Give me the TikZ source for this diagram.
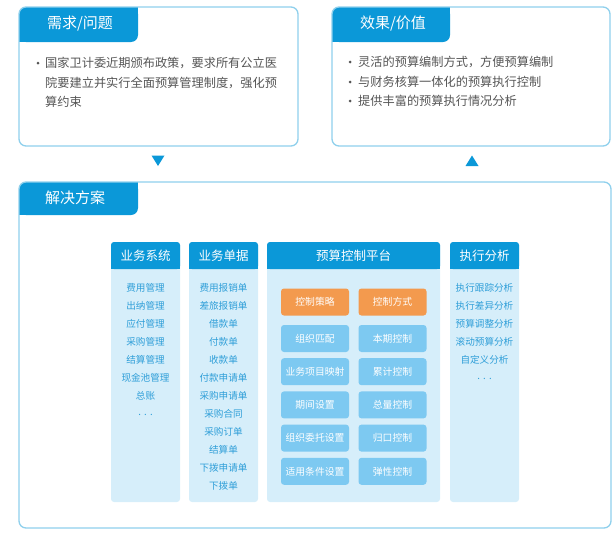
\documentclass[tikz,border=0pt]{standalone}
\usepackage{fontspec}
\setmainfont{Noto Sans CJK SC}
\definecolor{hdr}{HTML}{0B98D8}
\definecolor{framec}{HTML}{8FD0EC}
\definecolor{colbg}{HTML}{D6EEFA}
\definecolor{btn}{HTML}{7DC9F1}
\definecolor{org}{HTML}{F39A4E}
\definecolor{itm}{HTML}{2E9ED8}
\definecolor{txt}{HTML}{555555}
\tikzset{
  hdrtext/.style={text=white,font=\fontsize{15}{18}\selectfont,inner sep=0pt},
  coltitle/.style={text=white,font=\fontsize{12.5}{15}\selectfont,inner sep=0pt},
  colitem/.style={text=itm,font=\fontsize{9.6}{11}\selectfont,inner sep=0pt},
  bultext/.style={text=txt,font=\fontsize{12.2}{14}\selectfont,inner sep=0pt,anchor=base west},
  bul/.style={circle,fill=txt,minimum size=3pt,inner sep=0pt},
  btnbox/.style={fill=btn,rounded corners=3pt,minimum width=68pt,minimum height=27pt,inner sep=0pt,text=white,font=\fontsize{9.8}{11}\selectfont},
  orgbox/.style={btnbox,fill=org},
  frameline/.style={draw=framec,line width=1.3pt,rounded corners=7pt},
}
\begin{document}
\begin{tikzpicture}[x=1pt,y=-1pt]
\useasboundingbox (0,0) rectangle (616,533);
% ---------- top-left box ----------
\fill[hdr,rounded corners=7pt] (19,7) rectangle (138,42);
\fill[hdr] (126,7) rectangle (138,20);
\fill[hdr] (19,30) rectangle (31,42);
\draw[frameline] (19,7) rectangle (298,146);
\node[hdrtext] (h1) at (80,24) {需求/问题};
\node[bul] (b1) at (38,63) {};
\node[bultext] (t1a) at (45,67.5) {国家卫计委近期颁布政策，要求所有公立医};
\node[bultext] (t1b) at (45,87) {院要建立并实行全面预算管理制度，强化预};
\node[bultext] (t1c) at (45,106.5) {算约束};
% ---------- top-right box ----------
\fill[hdr,rounded corners=7pt] (332,7) rectangle (450,42);
\fill[hdr] (438,7) rectangle (450,20);
\fill[hdr] (332,30) rectangle (344,42);
\draw[frameline] (332,7) rectangle (610,146);
\node[hdrtext] (h2) at (393,24) {效果/价值};
\node[bul] (b2a) at (350,62) {};
\node[bul] (b2b) at (350,82) {};
\node[bul] (b2c) at (350,101) {};
\node[bultext] (t2a) at (358,66.5) {灵活的预算编制方式，方便预算编制};
\node[bultext] (t2b) at (358,86.5) {与财务核算一体化的预算执行控制};
\node[bultext] (t2c) at (358,105.5) {提供丰富的预算执行情况分析};
% ---------- triangles ----------
\fill[hdr] (151.5,155.5) -- (164.5,155.5) -- (158,166) -- cycle;
\fill[hdr] (465.5,166) -- (478.5,166) -- (472,155.5) -- cycle;
% ---------- bottom box ----------
\fill[hdr,rounded corners=7pt] (19,182) rectangle (138,215);
\fill[hdr] (126,182) rectangle (138,195);
\fill[hdr] (19,203) rectangle (31,215);
\draw[frameline] (19,182) rectangle (611,528);
\node[hdrtext] (h3) at (75,198) {解决方案};
% ---------- columns ----------
\foreach \l/\r in {111/180,189/258,267/440,450/519}{
  \fill[colbg,rounded corners=3pt] (\l,242) rectangle (\r,502);
  \fill[hdr,rounded corners=3pt] (\l,242) rectangle (\r,269);
  \fill[hdr] (\l,260) rectangle (\r,269);
}
\node[coltitle] (c1) at (145.5,256) {业务系统};
\node[coltitle] (c2) at (223.5,256) {业务单据};
\node[coltitle] (c3) at (353.5,256) {预算控制平台};
\node[coltitle] (c4) at (484.5,256) {执行分析};
\foreach \t [count=\i] in {费用管理,出纳管理,应付管理,采购管理,结算管理,现金池管理,总账}
  \node[colitem] (s\i) at (145.5,270+18*\i) {\t};
\node[colitem] (sdots) at (145.5,415) {.\,\,.\,\,.};
\foreach \t [count=\i] in {费用报销单,差旅报销单,借款单,付款单,收款单,付款申请单,采购申请单,采购合同,采购订单,结算单,下拨申请单,下拨单}
  \node[colitem] (d\i) at (223.5,270+18*\i) {\t};
\foreach \t [count=\i] in {执行跟踪分析,执行差异分析,预算调整分析,滚动预算分析,自定义分析}
  \node[colitem] (a\i) at (484.5,270+18*\i) {\t};
\node[colitem] (adots) at (484.5,379) {.\,\,.\,\,.};
% ---------- buttons ----------
\node[orgbox] (p1) at (315,302) {控制策略};
\node[orgbox] (q1) at (392.5,302) {控制方式};
\foreach \a/\b [count=\i] in {组织匹配/本期控制,业务项目映射/累计控制,期间设置/总量控制,组织委托设置/归口控制,适用条件设置/弹性控制}{
  \node[btnbox] (p\i x) at (315,338.5+33.2*\i-33.2) {\a};
  \node[btnbox] (q\i x) at (392.5,338.5+33.2*\i-33.2) {\b};
}
\end{tikzpicture}
\end{document}
